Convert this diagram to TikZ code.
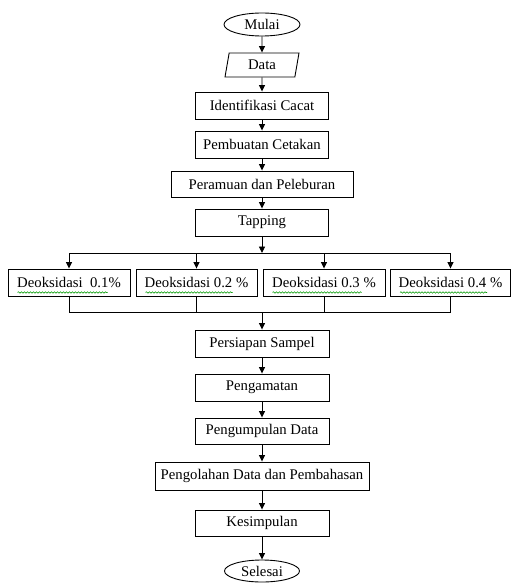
\documentclass[tikz,border=0pt]{standalone}
\usepackage{fontspec}
\setmainfont{Liberation Serif}
\usepackage{tikz}
\usetikzlibrary{shapes.geometric, arrows.meta, decorations.pathmorphing}

\begin{document}
\begin{tikzpicture}[x = 1bp, y = -1bp, line width = .9bp,
        every node/.style = {font = \fontsize{14.8}{17}\selectfont, inner sep = 0pt},
        >={Triangle[length = 6.5bp, width = 6bp]},
        proc/.style = {draw, rectangle, minimum height = 27bp},
        term/.style = {draw, ellipse, minimum width = 76bp, minimum height = 23bp},
        io/.style = {draw, trapezium, trapezium left angle = 67, trapezium right angle = 113,
                     trapezium stretches body, minimum width = 74bp, minimum height = 24bp},
        wavy/.style = {draw = green!60!black, line width = .6bp, decorate,
                       decoration = {snake, amplitude = .7bp, segment length = 3bp}}]
        \useasboundingbox (0,0) rectangle (511,583);

        \node[term] (mulai) at (262,24.5) {Mulai};
        \node[io] (data) at (262,65) {Data};
        \node[proc, minimum width = 133bp] (ident) at (262,105.5) {Identifikasi Cacat};
        \node[proc, minimum width = 133bp] (cetak) at (262,144.5) {Pembuatan Cetakan};
        \node[proc, minimum width = 182bp, minimum height = 26bp] (lebur) at (262,184) {Peramuan dan Peleburan};
        \node[proc, minimum width = 133bp] (tap) at (262,222.5) {Tapping};

        \node[proc, minimum width = 122bp] (d1) at (69,282.5) {Deoksidasi\ \ 0.1\%};
        \node[proc, minimum width = 121bp] (d2) at (196.5,282.5) {Deoksidasi 0.2 \%};
        \node[proc, minimum width = 122bp] (d3) at (324,282.5) {Deoksidasi 0.3 \%};
        \node[proc, minimum width = 120bp] (d4) at (450.5,282.5) {Deoksidasi 0.4 \%};

        \node[proc, minimum width = 134bp] (sampel) at (262,343.5) {Persiapan Sampel};
        \node[proc, minimum width = 134bp] (amat) at (262,387.5) {Pengamatan};
        \node[proc, minimum width = 134bp, minimum height = 26bp] (kumpul) at (262,431) {Pengumpulan Data};
        \node[proc, minimum width = 214bp, minimum height = 28bp] (olah) at (262,476) {Pengolahan Data dan Pembahasan};
        \node[proc, minimum width = 134bp, minimum height = 26bp] (simpul) at (262,523) {Kesimpulan};
        \node[term, minimum width = 75bp, minimum height = 22bp] (selesai) at (262,571) {Selesai};

        \coordinate (split) at (262,253);
        \coordinate (join) at (262,312);

        \draw[->] (mulai) -- (data);
        \draw[->] (data) -- (ident);
        \draw[->] (ident) -- (cetak);
        \draw[->] (cetak) -- (lebur);
        \draw[->] (lebur) -- (tap);
        \draw[->] (tap) -- (split);

        \draw (split -| d1) -- (split -| d4);
        \draw[->] (split -| d1) -- (d1);
        \draw[->] (split -| d2) -- (d2);
        \draw[->] (split -| d3) -- (d3);
        \draw[->] (split -| d4) -- (d4);
        \draw (d1) -- (join -| d1) -- (join -| d4) -- (d4);
        \draw (d2) -- (join -| d2);
        \draw (d3) -- (join -| d3);
        \draw[->] (join) -- (sampel);

        \draw[->] (sampel) -- (amat);
        \draw[->] (amat) -- (kumpul);
        \draw[->] (kumpul) -- (olah);
        \draw[->] (olah) -- (simpul);
        \draw[->] (simpul) -- (selesai);

        % spell-check marks under the Deoksidasi labels
        \draw[wavy] ([xshift = 10bp, yshift = 4bp]d1.south west) -- ++(90,0);
        \draw[wavy] ([xshift = 10bp, yshift = 4bp]d2.south west) -- ++(87,0);
        \draw[wavy] ([xshift = 10bp, yshift = 4bp]d3.south west) -- ++(89,0);
        \draw[wavy] ([xshift = 10bp, yshift = 4bp]d4.south west) -- ++(87,0);
      \end{tikzpicture}
\end{document}
